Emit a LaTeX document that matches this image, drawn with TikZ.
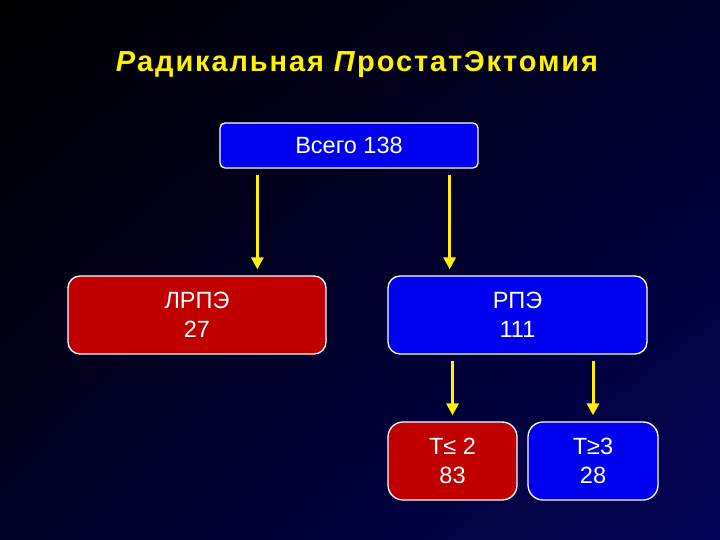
\documentclass[tikz,border=0pt]{standalone}
\usepackage{fontspec}
\setmainfont{Liberation Sans}
\usepackage{xcolor}
\usepackage{tikz}
\usetikzlibrary{positioning,arrows.meta,shadings}

\definecolor{boxblue}{RGB}{0,0,240}
\definecolor{boxred}{RGB}{192,0,0}
\definecolor{bgnavy}{RGB}{2,2,88}

\tikzset{
  stagebox/.style={draw=white, line width=1.3pt, text=white, align=center,
    font=\fontsize{23.5}{29}\selectfont, inner sep=0pt},
  flow/.style={draw=yellow, line width=3pt, -{Triangle[width=12pt,length=12pt]},
    shorten <=6pt, shorten >=6pt}
}

\begin{document}
\begin{tikzpicture}[x=1pt,y=-1pt]
				\useasboundingbox (0,0) rectangle (720,540);
				\shade[upper left=black, upper right=bgnavy!45!black, lower left=bgnavy!40!black, lower right=bgnavy] (0,0) rectangle (720,540);
				
				\node[text=yellow, font=\fontsize{29}{34}\selectfont\bfseries\addfontfeature{LetterSpace=6.5}] (title) at (357,64) {\textit{Р}адикальная \textit{П}ростатЭктомия};
				
				\node[stagebox, fill=boxblue, rounded corners=5pt, minimum width=258pt, minimum height=45pt] (total) at (349,145.5) {Всего 138};
				
				\node[stagebox, fill=boxred, rounded corners=12pt, minimum width=258pt, minimum height=78pt] (lrpe) at (197,315) {ЛРПЭ\\27};
				\node[stagebox, fill=boxblue, rounded corners=12pt, minimum width=259pt, minimum height=78pt] (rpe) at (517.5,315) {РПЭ\\111};
				
				\node[stagebox, fill=boxred, rounded corners=15pt, minimum width=129pt, minimum height=78pt] (tle) at (452.5,461) {T≤ 2\\83};
				\node[stagebox, fill=boxblue, rounded corners=15pt, minimum width=130pt, minimum height=78pt] (tge) at (593,461) {T≥3\\28};
				
				\coordinate (splitl) at ([xshift=38pt]total.south west);
				\coordinate (splitr) at ([xshift=-29pt]total.south east);
				
				\draw[flow] (splitl) -- (splitl |- lrpe.north);
				\draw[flow] (splitr) -- (splitr |- rpe.north);
				\draw[flow] (rpe.south -| tle.north) -- (tle.north);
				\draw[flow] (rpe.south -| tge.north) -- (tge.north);
			\end{tikzpicture}
\end{document}
